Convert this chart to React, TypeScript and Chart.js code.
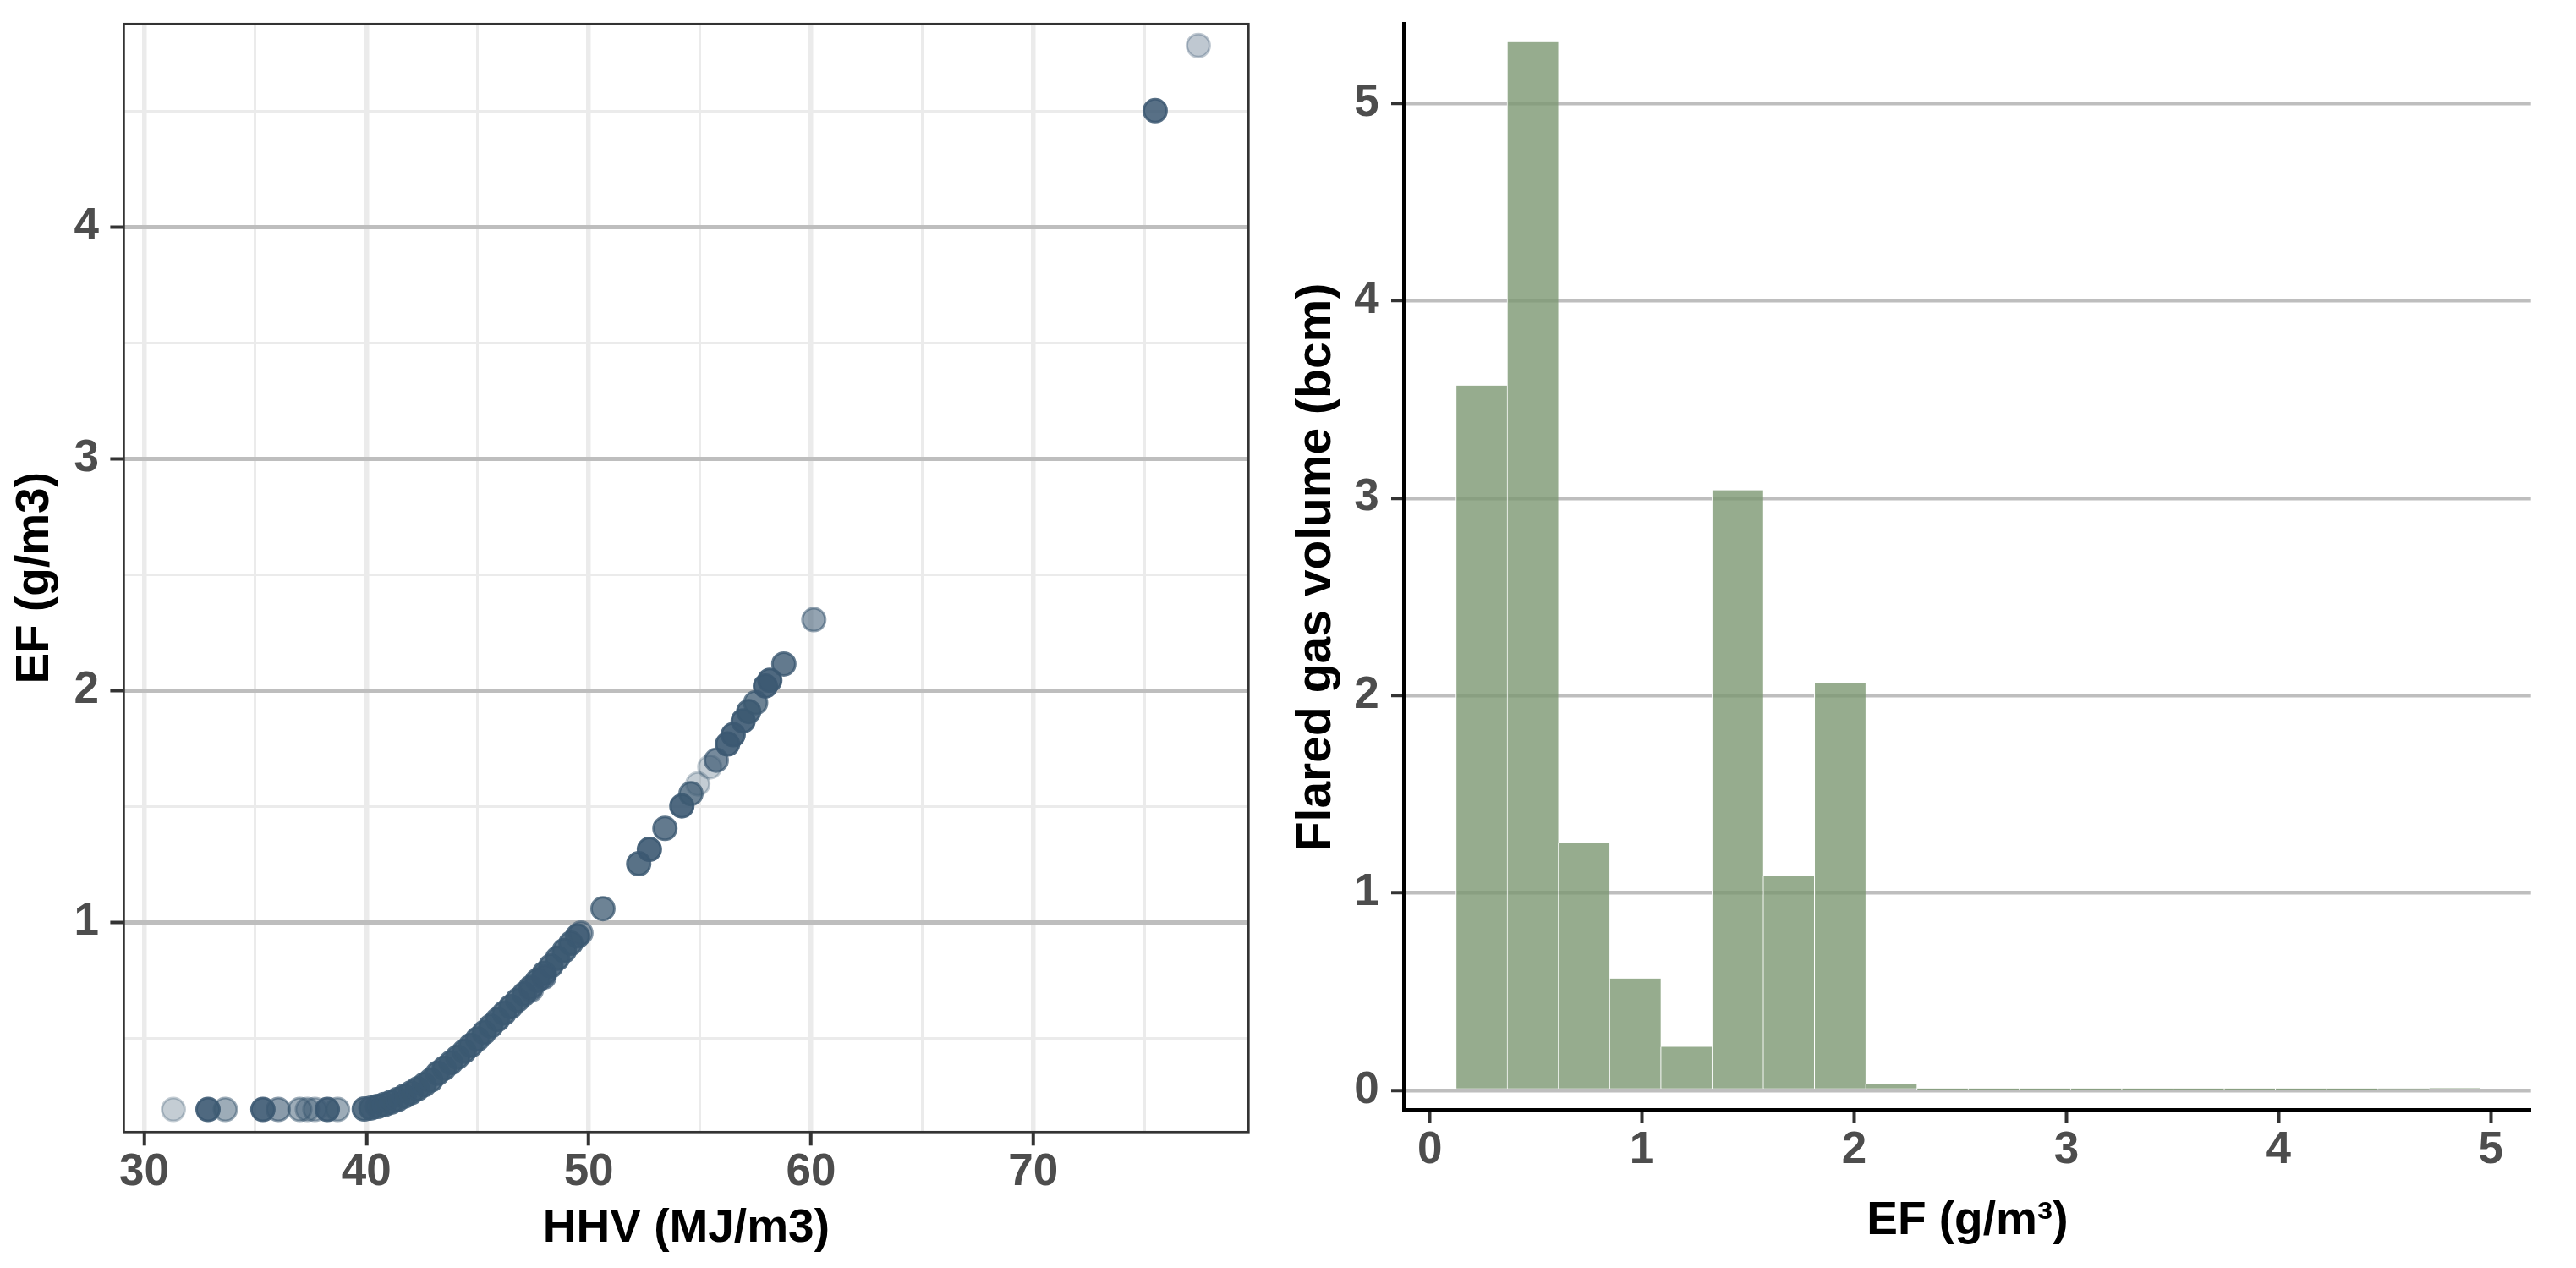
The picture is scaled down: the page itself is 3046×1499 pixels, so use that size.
import React, { useEffect, useRef } from "react";
import { Chart, registerables } from "chart.js";

Chart.register(...registerables);

// ---------- Left panel: EF vs HHV (scatter) ----------
const hhv: number[] = [
  31.31, 32.87, 33.65, 35.34, 36.03, 37.0, 37.34, 37.68, 38.24, 38.7,
  39.9, 40.2, 40.5, 40.8, 41.1, 41.4, 41.7, 42.0, 42.3, 42.6, 42.9, 43.2, 43.5, 43.8,
  44.1, 44.4, 44.7, 45.0, 45.3, 45.6, 45.9, 46.2, 46.5, 46.8, 47.1, 47.4, 47.7, 48.0,
  48.3, 48.6, 48.9, 49.2, 49.5,
  47.42, 47.99, 49.65,
  50.64, 52.25, 52.73, 53.43, 54.19, 54.6, 54.91, 55.45, 55.74, 56.25, 56.5, 56.95,
  57.2, 57.51, 57.95, 58.15, 58.78, 60.13, 75.49, 77.43,
];
const ef: number[] = [
  0.194, 0.194, 0.194, 0.194, 0.194, 0.194, 0.194, 0.194, 0.194, 0.194,
  0.196, 0.2, 0.207, 0.215, 0.225, 0.237, 0.251, 0.266, 0.283, 0.301, 0.321, 0.35, 0.372, 0.396,
  0.42, 0.445, 0.471, 0.498, 0.526, 0.554, 0.582, 0.61, 0.638, 0.666, 0.692, 0.721, 0.751, 0.781,
  0.813, 0.846, 0.879, 0.911, 0.942,
  0.71, 0.765, 0.955,
  1.06, 1.254, 1.316, 1.406, 1.503, 1.556, 1.598, 1.671, 1.7, 1.77, 1.81, 1.87,
  1.91, 1.948, 2.02, 2.045, 2.115, 2.306, 4.501, 4.782,
];
const pointAlpha: number[] = [
  0.3, 0.9, 0.5, 0.9, 0.6, 0.5, 0.45, 0.45, 0.9, 0.5,
  0.85, 0.85, 0.85, 0.85, 0.85, 0.85, 0.85, 0.85, 0.85, 0.85, 0.85, 0.85, 0.85, 0.85,
  0.85, 0.85, 0.85, 0.85, 0.85, 0.85, 0.85, 0.85, 0.85, 0.85, 0.85, 0.85, 0.85, 0.85,
  0.85, 0.85, 0.85, 0.85, 0.85,
  0.6, 0.7, 0.6,
  0.75, 0.85, 0.9, 0.8, 0.9, 0.75, 0.3, 0.3, 0.7, 0.9, 0.9, 0.9,
  0.85, 0.75, 0.9, 0.9, 0.8, 0.55, 0.86, 0.33,
];

// ---------- Right panel: histogram of flared gas volume by EF ----------
const binCenters: number[] = [
  0.2437, 0.485, 0.7263, 0.9676, 1.2089, 1.4502, 1.6915, 1.9328, 2.1741, 2.4154,
  2.6567, 2.898, 3.1393, 3.3806, 3.6219, 3.8632, 4.1045, 4.3458, 4.5871, 4.8284,
];
const flaredVolume: number[] = [
  3.57, 5.31, 1.254, 0.566, 0.221, 3.04, 1.086, 2.061, 0.033, 0.002,
  0.001, 0.001, 0.001, 0.001, 0.001, 0.001, 0.001, 0.002, 0.006, 0.012,
];

const FONT = "'Liberation Sans', Arial, Helvetica, sans-serif";
const POINT_RGB = "60,89,114";

const tickFont = { family: FONT, size: 53, weight: "bold" as const, lineHeight: 1.2 };
const titleFont = { family: FONT, size: 55, weight: "bold" as const, lineHeight: 1.2 };

const isWhole = (v: number) => Math.abs(v - Math.round(v)) < 1e-6;

// Fix a scale's box size and drop the label overhang padding Chart.js adds.
const fixBox = (dim: "width" | "height", size: number) => (s: any) => {
  s[dim] = size;
  s.paddingTop = 0;
  s.paddingBottom = 0;
  s.paddingLeft = 0;
  s.paddingRight = 0;
};

const panelBorder = {
  id: "panelBorder",
  afterDraw(chart: any) {
    const { ctx, chartArea } = chart;
    ctx.save();
    ctx.strokeStyle = "#333333";
    ctx.lineWidth = 2.7;
    ctx.strokeRect(chartArea.left, chartArea.top, chartArea.right - chartArea.left, chartArea.bottom - chartArea.top);
    ctx.restore();
  },
};

function ScatterPanel() {
  const ref = useRef<HTMLCanvasElement>(null);
  useEffect(() => {
    const colorFor = (c: any) => `rgba(${POINT_RGB},${pointAlpha[c.dataIndex] ?? 1})`;
    const chart = new Chart(ref.current as HTMLCanvasElement, {
      type: "scatter",
      data: {
        datasets: [
          {
            data: hhv.map((x, i) => ({ x, y: ef[i] })),
            pointRadius: 13.5,
            pointHoverRadius: 13.5,
            pointBorderWidth: 3,
            pointBackgroundColor: colorFor,
            pointBorderColor: colorFor,
          } as any,
        ],
      },
      plugins: [panelBorder],
      options: {
        responsive: false,
        animation: false,
        devicePixelRatio: 1,
        layout: { padding: { left: 0, top: 28.3, right: 46.7, bottom: 0 } },
        plugins: { legend: { display: false }, tooltip: { enabled: false } },
        scales: {
          x: {
            type: "linear",
            min: 29.08,
            max: 79.69,
            afterFit: fixBox("height", 160.7),
            border: { display: false },
            grid: {
              color: "#EBEBEB",
              lineWidth: (c: any) => (c.tick && c.tick.value % 10 === 0 ? 5.5 : 3),
              tickColor: (c: any) => (c.tick && c.tick.value % 10 === 0 ? "#333333" : "rgba(0,0,0,0)"),
              tickLength: 16,
              tickWidth: 4,
            },
            ticks: {
              stepSize: 5,
              autoSkip: false,
              maxRotation: 0,
              includeBounds: false,
              padding: 0.6,
              color: "#4D4D4D",
              font: tickFont,
              callback: (v: any) => (Number(v) % 10 === 0 ? String(v) : ""),
            },
            title: {
              display: true,
              text: "HHV (MJ/m3)",
              color: "#000000",
              font: titleFont,
              padding: { top: 0, bottom: 13 },
            },
          },
          y: {
            type: "linear",
            min: 0.0967,
            max: 4.875,
            afterFit: fixBox("width", 146.4),
            border: { display: false },
            grid: {
              color: (c: any) => (c.tick && isWhole(c.tick.value) ? "#BEBEBE" : "#EBEBEB"),
              lineWidth: (c: any) => (c.tick && isWhole(c.tick.value) ? 5 : 3),
              tickColor: (c: any) => (c.tick && isWhole(c.tick.value) ? "#333333" : "rgba(0,0,0,0)"),
              tickLength: 16,
              tickWidth: 4,
            },
            ticks: {
              stepSize: 0.5,
              autoSkip: false,
              includeBounds: false,
              padding: 13.4,
              color: "#4D4D4D",
              font: tickFont,
              callback: (v: any) => (isWhole(Number(v)) ? String(Math.round(Number(v))) : ""),
            },
            title: {
              display: true,
              text: "EF (g/m3)",
              color: "#000000",
              font: titleFont,
              padding: { top: 8.7, bottom: 0 },
            },
          },
        },
      } as any,
    });
    return () => chart.destroy();
  }, []);
  return (
    <canvas
      ref={ref}
      width={1523}
      height={1499}
      style={{ position: "absolute", left: 0, top: 0, width: 1523, height: 1499 }}
    />
  );
}

function HistogramPanel() {
  const ref = useRef<HTMLCanvasElement>(null);
  useEffect(() => {
    const chart = new Chart(ref.current as HTMLCanvasElement, {
      type: "bar",
      data: {
        datasets: [
          {
            data: binCenters.map((x, i) => ({ x, y: flaredVolume[i] })),
            backgroundColor: "rgba(124,151,114,0.8)",
            borderColor: "rgba(255,255,255,0.95)",
            borderWidth: { left: 1, right: 0, top: 0, bottom: 0 },
            borderSkipped: false,
            barPercentage: 1,
            categoryPercentage: 1,
          } as any,
        ],
      },
      options: {
        responsive: false,
        animation: false,
        devicePixelRatio: 1,
        layout: { padding: { left: 0, top: 28.7, right: 53.3, bottom: 0 } },
        plugins: { legend: { display: false }, tooltip: { enabled: false } },
        scales: {
          x: {
            type: "linear",
            min: -0.122,
            max: 5.189,
            offset: false,
            afterFit: fixBox("height", 186.7),
            border: { display: true, color: "#000000", width: 4.7 },
            grid: {
              offset: false,
              drawOnChartArea: false,
              drawTicks: true,
              tickColor: "#333333",
              tickLength: 15,
              tickWidth: 4,
            },
            ticks: {
              stepSize: 1,
              autoSkip: false,
              maxRotation: 0,
              includeBounds: false,
              padding: 0.9,
              color: "#4D4D4D",
              font: tickFont,
            },
            title: {
              display: true,
              text: "EF (g/m³)",
              color: "#000000",
              font: titleFont,
              padding: { top: 0, bottom: 22 },
            },
          },
          y: {
            type: "linear",
            min: -0.1,
            max: 5.4,
            afterFit: fixBox("width", 137),
            border: { display: true, color: "#000000", width: 4.7 },
            grid: {
              color: "#BEBEBE",
              lineWidth: 4.5,
              tickColor: "#333333",
              tickLength: 15,
              tickWidth: 4,
            },
            ticks: {
              stepSize: 1,
              autoSkip: false,
              includeBounds: false,
              padding: 14.3,
              color: "#4D4D4D",
              font: tickFont,
            },
            title: {
              display: true,
              text: "Flared gas volume (bcm)",
              color: "#000000",
              font: { ...titleFont, size: 57 },
              padding: { top: 0, bottom: 0 },
            },
          },
        },
      } as any,
    });
    return () => chart.destroy();
  }, []);
  return (
    <canvas
      ref={ref}
      width={1523}
      height={1499}
      style={{ position: "absolute", left: 1523, top: 0, width: 1523, height: 1499 }}
    />
  );
}

export default function App() {
  return (
    <div
      style={{
        position: "absolute",
        left: 0,
        top: 0,
        width: 3046,
        height: 1499,
        background: "#FFFFFF",
        overflow: "hidden",
      }}
    >
      <ScatterPanel />
      <HistogramPanel />
    </div>
  );
}
